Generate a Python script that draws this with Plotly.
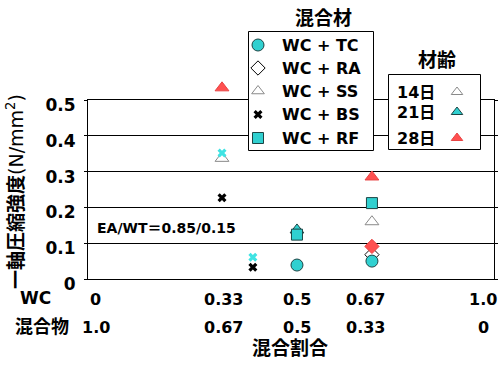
import plotly.graph_objects as go

W, H = 501, 365
FONT = "DejaVu Sans, Noto Sans CJK JP"
CYAN = "#30D0D0"
CYAN_X = "#3FE3E3"
RED = "#FF5050"

# ---- data: unconfined compressive strength (N/mm2) by WC mixing ratio ----
age_labels = ["14日", "21日", "28日"]
series_labels = ["WC + TC", "WC + RA", "WC + SS", "WC + BS", "WC + RF"]

tc_ratio = [0.5, 0.67]
tc_strength = [0.039, 0.050]
tc_age = ["21日", "21日"]

ra_ratio = [0.67, 0.67]
ra_strength = [0.068, 0.091]
ra_age = ["14日", "28日"]

ss_ratio = [0.33, 0.33, 0.5, 0.67, 0.67]
ss_strength = [0.337, 0.534, 0.137, 0.160, 0.285]
ss_age = ["14日", "28日", "21日", "14日", "28日"]

bs_ratio = [0.33, 0.33, 0.4, 0.4]
bs_strength = [0.227, 0.352, 0.033, 0.061]
bs_age = ["14日", "21日", "14日", "21日"]

rf_ratio = [0.5, 0.67]
rf_strength = [0.124, 0.212]
rf_age = ["21日", "21日"]

wc_labels = ["0", "0.33", "0.5", "0.67", "1.0"]
mix_labels = ["1.0", "0.67", "0.5", "0.33", "0"]
y_ticks = [0, 0.1, 0.2, 0.3, 0.4, 0.5]

# ---- layout geometry (pixels) ----
L, R, T, B = 88, 494, 100, 279
PX_PER_UNIT = 441.0
X_LO = 0.33 - (222 - L) / PX_PER_UNIT
X_HI = X_LO + (R - L) / PX_PER_UNIT
Y_PX_PER_UNIT = (B - T) / 0.5
label_pos = [0.044, 0.334, 0.5, 0.656, 0.922]

symbols = {
    "WC + TC": ("circle", 12),
    "WC + RA": ("diamond", 11),
    "WC + SS": ("triangle-up", 12),
    "WC + BS": ("x", 8),
    "WC + RF": ("square", 11),
}
age_fill = {"14日": "white", "21日": CYAN, "28日": RED}
age_edge = {"14日": "#111111", "21日": "#1C4444", "28日": "#E84444"}


def marker_for(name, ages):
    sym, size = symbols[name]
    if name == "WC + BS":
        colors = ["black" if a == "14日" else CYAN_X for a in ages]
        return dict(symbol=sym, size=size, color=colors, line=dict(width=0))
    colors = [age_fill[a] for a in ages]
    edges = []
    for a in ages:
        if a == "14日" and name == "WC + SS":
            edges.append("#8A8A8A")
        else:
            edges.append(age_edge[a])
    return dict(symbol=sym, size=size, color=colors, line=dict(color=edges, width=1))


fig = go.Figure()

# empty trace so the framed grid subplot is built
fig.add_trace(go.Scatter(x=[None], y=[None], mode="markers", showlegend=False,
                         hoverinfo="skip", xaxis="x", yaxis="y"))

# ---- legend boxes drawn in an overlay pixel space ----
def box(x0, y0, x1, y1):
    fig.add_trace(go.Scatter(
        x=[x0, x1, x1, x0, x0], y=[y0, y0, y1, y1, y0],
        mode="lines", fill="toself", fillcolor="white",
        line=dict(color="black", width=1), showlegend=False,
        hoverinfo="skip", xaxis="x2", yaxis="y2",
    ))


annotations = []


def text(x, y, s, size=16, xanchor="center", xref="x2", yref="y2", weight="bold", angle=0):
    annotations.append(dict(
        x=x, y=y, xref=xref, yref=yref, text=s, showarrow=False,
        xanchor=xanchor, yanchor="middle", textangle=angle,
        font=dict(family=FONT, size=size, color="black", weight=weight),
    ))


# mixture legend
box(248.5, 31.5, 373.5, 150.5)
row_y = [45, 68, 91, 114.5, 138]
for name, ry in zip(series_labels, row_y):
    sym, size = symbols[name]
    if name == "WC + TC":
        mk = dict(symbol=sym, size=size, color=CYAN, line=dict(color="#1C4444", width=1))
    elif name == "WC + RA":
        mk = dict(symbol=sym, size=size, color="white", line=dict(color="black", width=1))
    elif name == "WC + SS":
        mk = dict(symbol=sym, size=11, color="white", line=dict(color="#8A8A8A", width=1))
    elif name == "WC + BS":
        mk = dict(symbol=sym, size=size, color="black", line=dict(width=0))
    else:
        mk = dict(symbol=sym, size=size, color=CYAN, line=dict(color="#1C4444", width=1))
    fig.add_trace(go.Scatter(x=[258], y=[ry], mode="markers", marker=mk,
                             showlegend=False, hoverinfo="skip", xaxis="x2", yaxis="y2"))
    text(280, ry, name, size=16, xanchor="left")
text(323, 18, "混合材", size=19)

# curing age legend
box(388.5, 74.5, 480.5, 149.5)
age_rows = [92, 112, 138]
for age, ry in zip(age_labels, age_rows):
    edge = "#8A8A8A" if age == "14日" else age_edge[age]
    fig.add_trace(go.Scatter(
        x=[457], y=[ry], mode="markers",
        marker=dict(symbol="triangle-up", size=10, color=age_fill[age], line=dict(color=edge, width=1)),
        showlegend=False, hoverinfo="skip", xaxis="x2", yaxis="y2"))
    text(395, ry, age, size=16, xanchor="left")
text(437, 60, "材齢", size=19)

# data markers on their own subplot sharing the plot's scales
data = [
    ("WC + SS", ss_ratio, ss_strength, ss_age),
    ("WC + RA", ra_ratio, ra_strength, ra_age),
    ("WC + TC", tc_ratio, tc_strength, tc_age),
    ("WC + BS", bs_ratio, bs_strength, bs_age),
    ("WC + RF", rf_ratio, rf_strength, rf_age),
]
for name, xs, ys, ages in data:
    fig.add_trace(go.Scatter(
        x=xs, y=ys, mode="markers", name=name, showlegend=False,
        marker=marker_for(name, ages), cliponaxis=False,
        xaxis="x3", yaxis="y3",
    ))

# x-axis label rows
for pos, a, b in zip(label_pos, wc_labels, mix_labels):
    text(pos, 299.5, a, size=16, xref="x")
    text(pos, 327, b, size=16, xref="x")
text(35, 298, "WC", size=17)
text(42, 326, "混合物", size=18)
text(290, 348, "混合割合", size=19)

# y-axis title
text(15, 192, "一軸圧縮強度<span style='font-weight:normal'>(N/mm<sup>2</sup>)</span>",
     size=19, angle=-90)

# ratio note
text(95, 228, "EA/WT＝0.85/0.15", size=14, xanchor="left")

fig.update_layout(
    template="none",
    width=W, height=H, autosize=False,
    margin=dict(l=0, r=0, t=0, b=0, pad=0, autoexpand=False),
    paper_bgcolor="white", plot_bgcolor="rgba(0,0,0,0)",
    annotations=annotations,
    xaxis=dict(
        domain=[L / W, R / W], range=[X_LO, X_HI], anchor="y",
        showgrid=False, zeroline=False, showticklabels=False, ticks="",
        showline=True, linecolor="black", linewidth=1, mirror=True,
    ),
    yaxis=dict(
        domain=[(H - B) / H, (H - T) / H], range=[0, 0.5], anchor="x",
        tickvals=y_ticks, ticktext=[str(v) if v else "0" for v in y_ticks],
        showgrid=True, gridcolor="black", gridwidth=1, zeroline=False,
        showline=True, linecolor="black", linewidth=1, mirror="ticks",
        ticks="outside", ticklen=3, tickcolor="black",
        ticklabelstandoff=5, ticklabelshift=5,
        tickfont=dict(family=FONT, size=17, color="black", weight="bold"),
    ),
    xaxis2=dict(domain=[0, 1], range=[0, W], anchor="y2", visible=False, fixedrange=True),
    yaxis2=dict(domain=[0, 1], range=[H, 0], anchor="x2", visible=False, fixedrange=True),
    xaxis3=dict(domain=[L / W, R / W], range=[X_LO, X_HI], anchor="y3", visible=False),
    yaxis3=dict(domain=[(H - B) / H, 1], range=[0, B / Y_PX_PER_UNIT], anchor="x3", visible=False),
)

fig.write_html("out.html")
